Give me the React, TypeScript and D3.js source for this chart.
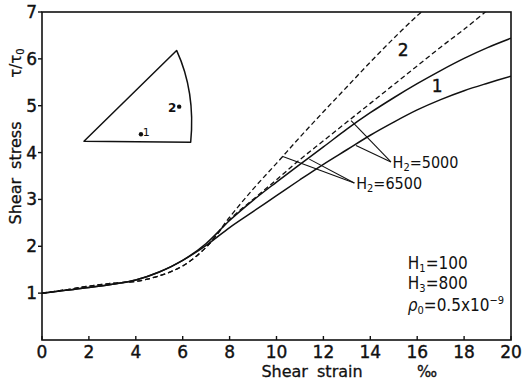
import * as d3 from "d3";

// strain (%) -> tau/tau0
const xTicks = [0, 2, 4, 6, 8, 10, 12, 14, 16, 18, 20];
const yTicks = [1, 2, 3, 4, 5, 6, 7];

const solidUpper: [number, number][] = [
  [0, 1], [1, 1.06], [2, 1.12], [3, 1.19], [4, 1.28], [5, 1.45], [6, 1.7], [7, 2.06],
  [8, 2.55], [9, 2.98], [10, 3.37], [11, 3.75], [12, 4.12], [13, 4.5], [14, 4.85],
  [15, 5.17], [16, 5.47], [17, 5.75], [18, 6.01], [19, 6.24], [20, 6.44],
];
const solidLower: [number, number][] = [
  [0, 1], [1, 1.06], [2, 1.12], [3, 1.19], [4, 1.28], [5, 1.45], [6, 1.7], [7, 2.02],
  [8, 2.4], [9, 2.74], [10, 3.08], [11, 3.42], [12, 3.75], [13, 4.06], [14, 4.37],
  [15, 4.65], [16, 4.91], [17, 5.13], [18, 5.32], [19, 5.48], [20, 5.63],
];
const dashedSteep: [number, number][] = [
  [0, 1], [1, 1.07], [2, 1.15], [3, 1.21], [4, 1.25], [5, 1.37], [6, 1.58], [7, 1.98],
  [8, 2.62], [9, 3.22], [10, 3.77], [11, 4.33], [12, 4.87], [13, 5.4], [14, 5.93],
  [15, 6.44], [16, 6.92], [16.3, 7.05],
];
const dashedLower: [number, number][] = [
  [0, 1], [1, 1.07], [2, 1.15], [3, 1.21], [4, 1.25], [5, 1.37], [6, 1.58], [7, 1.98],
  [8, 2.57], [9, 3.0], [10, 3.42], [11, 3.85], [12, 4.25], [13, 4.65], [14, 5.05],
  [15, 5.45], [16, 5.85], [17, 6.25], [18, 6.63], [19, 7.04],
];

// leader lines: [label point, curve point]
const leaders5000: [number, number][][] = [
  [[14.88, 3.8], [13.18, 4.68]],
  [[14.88, 3.8], [13.39, 4.15]],
];
const leaders6500: [number, number][][] = [
  [[13.32, 3.35], [10.24, 3.92]],
  [[13.32, 3.35], [11.4, 3.86]],
];

// inset sketch, in data units
const insetCorners: [number, number][] = [[1.79, 4.24], [5.74, 6.18], [6.34, 4.22]];

const W = 523;
const H = 383;
const margin = { top: 12, right: 12, bottom: 43, left: 42 };
const FONT = "'DejaVu Sans', sans-serif";
const NARROW = "'DejaVu Sans Condensed', 'DejaVu Sans', sans-serif";

export default function App() {
  const x = d3.scaleLinear().domain([0, 20]).range([margin.left, W - margin.right]);
  const y = d3.scaleLinear().domain([0, 7]).range([H - margin.bottom, margin.top]);

  const line = d3
    .line<[number, number]>()
    .x((d) => x(d[0]))
    .y((d) => y(d[1]))
    .curve(d3.curveCatmullRom.alpha(0.5));

  const [a, b, c] = insetCorners;
  const insetPath =
    `M${x(a[0])},${y(a[1])} L${x(b[0])},${y(b[1])} ` +
    `Q${x(6.55)},${y(5.3)} ${x(c[0])},${y(c[1])} Z`;

  const x0 = x(0), x1 = x(20), y0 = y(0), y1 = y(7);

  return (
    <svg
      width={W}
      height={H}
      style={{ position: "absolute", left: 0, top: 0, background: "#fff" }}
      fontFamily={FONT}
    >
      <defs>
        <clipPath id="plot">
          <rect x={x0} y={y1} width={x1 - x0} height={y0 - y1} />
        </clipPath>
      </defs>

      {/* frame */}
      <rect x={x0} y={y1} width={x1 - x0} height={y0 - y1} fill="none" stroke="#111" strokeWidth={1.6} />

      {/* x ticks */}
      {xTicks.map((t) => (
        <g key={"x" + t}>
          <line x1={x(t)} x2={x(t)} y1={y0} y2={y0 - 4} stroke="#111" strokeWidth={1.4} />
          <text x={x(t)} y={y0 + 18} textAnchor="middle" fontSize={17} fill="#111" stroke="#111" strokeWidth={0.4}>
            {t}
          </text>
        </g>
      ))}
      {/* y ticks */}
      {yTicks.map((t) => (
        <g key={"y" + t}>
          <line x1={x0} x2={x0 - 4} y1={y(t)} y2={y(t)} stroke="#111" strokeWidth={1.4} />
          <text x={x0 - 5} y={y(t) + 6} textAnchor="end" fontSize={17} fill="#111" stroke="#111" strokeWidth={0.4}>
            {t}
          </text>
        </g>
      ))}

      {/* axis titles */}
      <text x={312} y={377} textAnchor="middle" fontSize={16} fill="#111" stroke="#111" strokeWidth={0.3} wordSpacing={4}>
        Shear strain
      </text>
      <text x={427} y={377} textAnchor="middle" fontSize={15} fill="#111" stroke="#111" strokeWidth={0.3}>
        ‰
      </text>
      <text
        transform={`translate(21,${173}) rotate(-90)`}
        textAnchor="middle"
        fontSize={16}
        fill="#111"
        stroke="#111"
        strokeWidth={0.3}
        wordSpacing={4}
      >
        Shear stress
      </text>
      <text transform={`translate(21,${63}) rotate(-90)`} textAnchor="middle" fontSize={15} fill="#111" stroke="#111" strokeWidth={0.2}>
        τ/τ<tspan fontSize={10} dy={3}>0</tspan>
      </text>

      {/* curves */}
      <g clipPath="url(#plot)" fill="none" stroke="#111">
        <path d={line(solidUpper) || ""} strokeWidth={1.5} />
        <path d={line(solidLower) || ""} strokeWidth={1.5} />
        <path d={line(dashedSteep) || ""} strokeWidth={1.3} strokeDasharray="5,3" />
        <path d={line(dashedLower) || ""} strokeWidth={1.3} strokeDasharray="5,3" />
      </g>

      {/* leaders */}
      {[...leaders5000, ...leaders6500].map((l, i) => (
        <line
          key={"l" + i}
          x1={x(l[0][0])}
          y1={y(l[0][1])}
          x2={x(l[1][0])}
          y2={y(l[1][1])}
          stroke="#111"
          strokeWidth={1.1}
        />
      ))}
      <text x={x(14.95)} y={y(3.8) + 6} fontSize={16} fill="#111" fontFamily={NARROW}>
        H<tspan fontSize={11} dy={3}>2</tspan><tspan dy={-3}>=5000</tspan>
      </text>
      <text x={x(13.4)} y={y(3.35) + 6} fontSize={16} fill="#111" fontFamily={NARROW}>
        H<tspan fontSize={11} dy={3}>2</tspan><tspan dy={-3}>=6500</tspan>
      </text>

      {/* curve labels */}
      <text x={x(15.4)} y={y(6.2) + 7} textAnchor="middle" fontSize={17} fill="#111" stroke="#111" strokeWidth={0.4}>
        2
      </text>
      <text x={x(16.85)} y={y(5.45) + 7} textAnchor="middle" fontSize={17} fill="#111" stroke="#111" strokeWidth={0.4}>
        1
      </text>

      {/* parameters */}
      <g fontFamily={NARROW} fontSize={17} fill="#111">
        <text x={x(15.6)} y={y(1.65) + 6}>
          H<tspan fontSize={11} dy={3}>1</tspan><tspan dy={-3}>=100</tspan>
        </text>
        <text x={x(15.6)} y={y(1.22) + 6}>
          H<tspan fontSize={11} dy={3}>3</tspan><tspan dy={-3}>=800</tspan>
        </text>
        <text x={x(15.6)} y={y(0.75) + 6} fontStyle="italic">
          ρ<tspan fontSize={11} dy={3} fontStyle="normal">0</tspan>
          <tspan dy={-3} fontStyle="normal">=0.5x10</tspan>
          <tspan fontSize={11} dy={-7} fontStyle="normal">−9</tspan>
        </text>
      </g>

      {/* inset */}
      <path d={insetPath} fill="none" stroke="#111" strokeWidth={1.5} strokeLinejoin="round" />
      <circle cx={x(5.85)} cy={y(4.98)} r={2.2} fill="#111" />
      <text x={x(5.55)} y={y(4.98) + 5} textAnchor="middle" fontSize={12} fontWeight="bold" fill="#111">
        2
      </text>
      <circle cx={x(4.22)} cy={y(4.39)} r={2.2} fill="#111" />
      <text x={x(4.45)} y={y(4.39) + 2} textAnchor="middle" fontSize={11} fill="#111">
        1
      </text>
    </svg>
  );
}
